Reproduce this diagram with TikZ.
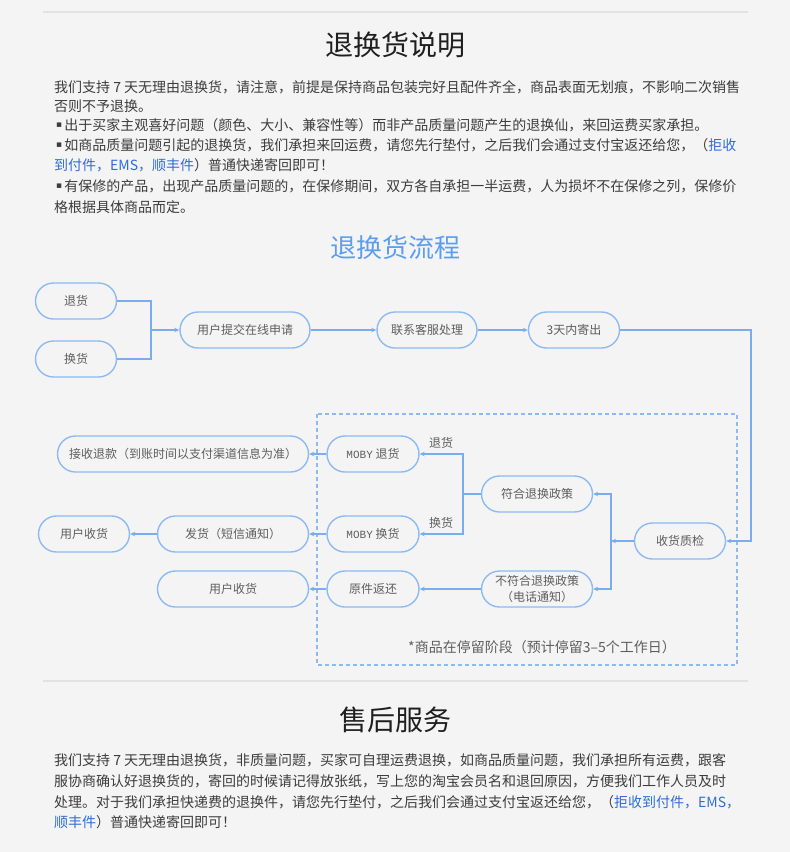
\documentclass[tikz,border=0pt]{standalone}
\usepackage{fontspec}
\setmainfont{Noto Sans CJK SC}
\newfontfamily\monof{Liberation Mono}
\newfontfamily\dejavu{DejaVu Sans}
\usetikzlibrary{arrows.meta}
\definecolor{bgc}{HTML}{F4F4F5}
\definecolor{sepc}{HTML}{E2E2E4}
\definecolor{txtc}{HTML}{3C3C3C}
\definecolor{linkc}{HTML}{2F6CD6}
\definecolor{ttlblue}{HTML}{5B9EF0}
\definecolor{pillc}{HTML}{8DBAF4}
\definecolor{conc}{HTML}{79ADF0}
\definecolor{ntxt}{HTML}{5E5E5E}
\newcommand\myfs[1]{\fontsize{#1}{#1}\selectfont}
\newcommand\bul{\raisebox{2.5pt}{\dejavu\fontsize{9}{9}\selectfont ▪}\hspace{2pt}}
\tikzset{
  para/.style={anchor=west, inner sep=0pt, text=txtc, font=\myfs{14}},
  pill/.style={draw=pillc, line width=1.4pt, fill=bgc, rounded corners=18pt,
    minimum height=36pt, inner sep=0pt, text=ntxt, font=\myfs{12}},
  conn/.style={draw=conc, line width=1.2pt},
  arr/.style={conn, -{Stealth[length=5pt,width=4.5pt]}},
  lbl/.style={inner sep=0pt, text=ntxt, font=\myfs{12}}
}
\begin{document}
\begin{tikzpicture}[x=1pt,y=-1pt]
\useasboundingbox (0,0) rectangle (790,852);
\fill[bgc] (0,0) rectangle (790,852);
% separators
\draw[sepc, line width=2pt] (43,12) -- (748,12);
\draw[sepc, line width=2pt] (43,681) -- (748,681);

% title 1
\node[inner sep=0pt, text=black!88, font=\myfs{28}] (t1) at (395,45) {退换货说明};
\node[para] (p1) at (54,87) {我们支持 7 天无理由退换货，请注意，前提是保持商品包装完好且配件齐全，商品表面无划痕，不影响二次销售};
\node[para] (p2) at (54,106) {否则不予退换。};
\node[para] (p3) at (56,125) {\bul 出于买家主观喜好问题（颜色、大小、兼容性等）而非产品质量问题产生的退换仙，来回运费买家承担。};
\node[para] (p4) at (56,145) {\bul 如商品质量问题引起的退换货，我们承担来回运费，请您先行垫付，之后我们会通过支付宝返还给您，（\textcolor{linkc}{拒收}};
\node[para] (p5) at (54,165) {\textcolor{linkc}{到付件，EMS，顺丰件}）普通快递寄回即可！};
\node[para] (p6) at (56,186) {\bul 有保修的产品，出现产品质量问题的，在保修期间，双方各自承担一半运费，人为损坏不在保修之列，保修价};
\node[para] (p7) at (54,207) {格根据具体商品而定。};

% title 2
\node[inner sep=0pt, text=ttlblue, font=\myfs{26}] (t2) at (395,248) {退换货流程};

% flow top
\node[pill, minimum width=81pt] (th) at (76,301) {退货};
\node[pill, minimum width=81pt] (hh) at (76,359) {换货};
\node[pill, minimum width=130pt] (sq) at (245,330) {用户提交在线申请};
\node[pill, minimum width=100pt] (kf) at (427,330) {联系客服处理};
\node[pill, minimum width=91pt] (jc) at (574,330) {3天内寄出};
\coordinate (j1) at (151,330);
\coordinate (c1) at (751,330);

% dashed box
\draw[pillc, line width=1.2pt, dash pattern=on 4pt off 3pt] (317,414) rectangle (737,665);

% lower nodes
\node[pill, minimum width=251pt] (jstk) at (183,454) {接收退款（到账时间以支付渠道信息为准）};
\node[pill, minimum width=92pt] (mt) at (373,454) {{\monof\myfs{11}MOBY} 退货};
\node[pill, minimum width=91pt] (yh1) at (84,534) {用户收货};
\node[pill, minimum width=151pt] (fhdx) at (233,534) {发货（短信通知）};
\node[pill, minimum width=92pt] (mh) at (373,534) {{\monof\myfs{11}MOBY} 换货};
\node[pill, minimum width=151pt] (yh2) at (233,589) {用户收货};
\node[pill, minimum width=92pt] (yjfh) at (373,589) {原件返还};
\node[pill, minimum width=111pt] (fh) at (537,494) {符合退换政策};
\node[pill, minimum width=111pt, align=center, font=\fontsize{12}{16}\selectfont] (bfh) at (537,589) {不符合退换政策\\（电话通知）};
\node[pill, minimum width=91pt] (zj) at (680,541) {收货质检};
\coordinate (j2) at (611,541);
\coordinate (j3) at (463,494);

% connectors top
\draw[conn] (th.east) -| (j1);
\draw[conn] (hh.east) -| (j1);
\draw[arr] (j1) -- (sq.west);
\draw[arr] (sq.east) -- (kf.west);
\draw[arr] (kf.east) -- (jc.west);
\draw[arr] (jc.east) -- (c1) |- (zj.east);

% connectors lower
\draw[arr] (zj.west) -- (j2);
\draw[arr] (j2) |- (fh.east);
\draw[arr] (j2) |- (bfh.east);
\draw[conn] (fh.west) -- (j3);
\draw[arr] (j3) |- (mt.east);
\draw[arr] (j3) |- (mh.east);
\draw[arr] (bfh.west) -- (yjfh.east);
\draw[arr] (mt.west) -- (jstk.east);
\draw[arr] (mh.west) -- (fhdx.east);
\draw[arr] (yjfh.west) -- (yh2.east);
\draw[arr] (fhdx.west) -- (yh1.east);
\node[lbl] (lt) at (441,443) {退货};
\node[lbl] (lh) at (441,523) {换货};

\node[inner sep=0pt, text=ntxt, font=\myfs{14}] (note) at (542,647) {*商品在停留阶段（预计停留3–5个工作日）};

% title 3
\node[inner sep=0pt, text=black!88, font=\myfs{28}] (t3) at (395,720) {售后服务};
\node[para] (q1) at (54,760) {我们支持 7 天无理由退换货，非质量问题，买家可自理运费退换，如商品质量问题，我们承担所有运费，跟客};
\node[para] (q2) at (54,781) {服协商确认好退换货的，寄回的时候请记得放张纸，写上您的淘宝会员名和退回原因，方便我们工作人员及时};
\node[para] (q3) at (54,802) {处理。对于我们承担快递费的退换件，请您先行垫付，之后我们会通过支付宝返还给您，（\textcolor{linkc}{拒收到付件，EMS，}};
\node[para] (q4) at (54,822) {\textcolor{linkc}{顺丰件}）普通快递寄回即可！};
\end{tikzpicture}
\end{document}
